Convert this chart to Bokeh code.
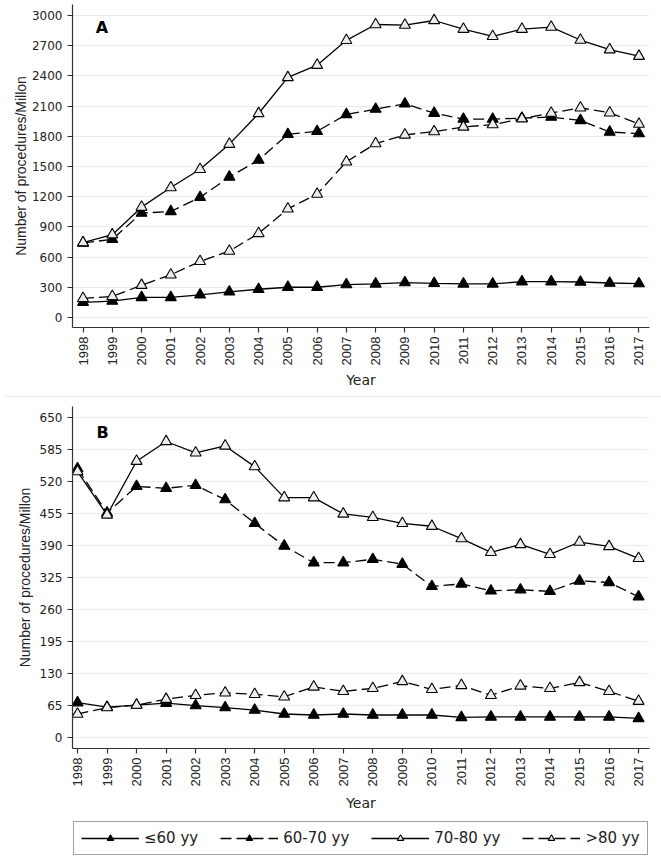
from math import pi
from bokeh.plotting import figure
from bokeh.models import Legend, LegendItem, Label, Div, FixedTicker, Range1d
from bokeh.layouts import column
from bokeh.embed import file_html
from bokeh.resources import INLINE

# ---------------- data ----------------
years = list(range(1998, 2018))
series_names = ["≤60 yy", "60-70 yy", "70-80 yy", ">80 yy"]

# Panel A
a_le60 = [150, 163, 199, 199, 225, 254, 280, 300, 300, 326, 333, 346, 339, 333, 333, 355, 355, 352, 342, 336]
a_60_70 = [740, 776, 1037, 1053, 1193, 1396, 1564, 1820, 1850, 2017, 2070, 2123, 2030, 1971, 1971, 1981, 1991, 1958, 1843, 1827]
a_70_80 = [743, 822, 1096, 1291, 1472, 1722, 2027, 2385, 2507, 2754, 2911, 2905, 2951, 2865, 2793, 2865, 2885, 2757, 2661, 2596]
a_gt80 = [189, 209, 320, 424, 557, 659, 835, 1079, 1226, 1547, 1728, 1814, 1847, 1893, 1916, 1975, 2031, 2083, 2034, 1922]
a_yticks = [0, 300, 600, 900, 1200, 1500, 1800, 2100, 2400, 2700, 3000]

# Panel B
b_le60 = [71, 62, 66, 70, 65, 61, 56, 48, 46, 48, 46, 46, 46, 41, 42, 42, 42, 42, 42, 39]
b_60_70 = [546, 456, 510, 506, 512, 483, 435, 389, 355, 355, 362, 352, 307, 312, 298, 300, 297, 318, 315, 286]
b_70_80 = [540, 452, 561, 601, 578, 592, 550, 487, 487, 454, 447, 435, 429, 404, 376, 392, 372, 397, 388, 364]
b_gt80 = [48, 61, 66, 78, 86, 91, 88, 83, 103, 94, 100, 114, 98, 106, 86, 105, 100, 112, 94, 74]
b_yticks = [0, 65, 130, 195, 260, 325, 390, 455, 520, 585, 650]

# ---------------- style ----------------
HFONT = "DejaVu Sans"
VFONT = "Liberation Sans"
AXC = "#333333"
GRID = "#e3ecef"
DASH = "11 5"
HOLLOW_FILL = "#ececec"
FIG_W = 661
LEFT = 72
RIGHT = 12

styles = [
    dict(dash="solid", fill="black"),
    dict(dash=DASH, fill="black"),
    dict(dash="solid", fill=HOLLOW_FILL),
    dict(dash=DASH, fill=HOLLOW_FILL),
]


def add_series(p, xs, vals, st):
    ln = p.line(xs, vals, line_color="black", line_width=1.3, line_dash=st["dash"])
    sc = p.scatter(xs, vals, marker="triangle", size=11, line_color="black",
                   line_width=1.1, fill_color=st["fill"])
    return [ln, sc]


def make_panel(series, yticks, xr, yr, frame_h, border_top, ylab_standoff,
               xlab_standoff, letter, letter_xy):
    p = figure(frame_width=FIG_W - LEFT - RIGHT, frame_height=frame_h,
               x_range=Range1d(*xr), y_range=Range1d(*yr),
               output_backend="svg", toolbar_location=None,
               min_border_left=LEFT, min_border_right=RIGHT,
               min_border_top=border_top, min_border_bottom=0,
               background_fill_color="white", border_fill_color="white")
    p.outline_line_color = None
    p.xgrid.grid_line_color = None
    p.ygrid.grid_line_color = GRID
    p.ygrid.grid_line_width = 1
    p.yaxis.ticker = FixedTicker(ticks=yticks)
    p.xaxis.ticker = FixedTicker(ticks=years)
    p.xaxis.major_label_orientation = pi / 2
    for ax in p.axis:
        ax.axis_line_color = AXC
        ax.axis_line_width = 1.2
        ax.major_tick_line_color = AXC
        ax.major_tick_line_width = 1.2
        ax.major_tick_in = 0
        ax.major_tick_out = 5
        ax.minor_tick_line_color = None
        ax.major_label_text_color = "#222222"
        ax.axis_label_text_color = "#222222"
        ax.axis_label_text_font_style = "normal"
        ax.major_label_standoff = 5
    p.yaxis.axis_label_standoff = ylab_standoff
    p.xaxis.major_label_standoff = 4
    p.xaxis.axis_label_standoff = xlab_standoff
    p.yaxis.major_label_text_font = HFONT
    p.yaxis.major_label_text_font_size = "12px"
    p.xaxis.major_label_text_font = VFONT
    p.xaxis.major_label_text_font_size = "13px"
    p.yaxis.axis_label = "Number of procedures/Millon"
    p.yaxis.axis_label_text_font = VFONT
    p.yaxis.axis_label_text_font_size = "14px"
    p.xaxis.axis_label = "Year"
    p.xaxis.axis_label_text_font = HFONT
    p.xaxis.axis_label_text_font_size = "14px"

    for vals, st in zip(series, styles):
        add_series(p, years, vals, st)

    p.add_layout(Label(x=letter_xy[0], y=letter_xy[1], text=letter, text_font=HFONT,
                       text_font_style="bold", text_font_size="16px", text_align="center",
                       text_baseline="middle", text_color="black"))
    return p


pA = make_panel([a_le60, a_60_70, a_70_80, a_gt80], a_yticks, (1997.64, 2017.36),
                (-100, 3110), 323, 4, 0, 4, "A", (1998.65, 2882))
pB = make_panel([b_le60, b_60_70, b_70_80, b_gt80], b_yticks, (1997.83, 2017.37),
                (-22, 672), 342, 4, 4, 6, "B", (1998.85, 619))

# legend strip: a small figure holding only the key; its sample renderers lie
# outside the strip's ranges, so only the legend glyphs are visible
pL = figure(frame_width=FIG_W - LEFT - RIGHT, frame_height=44,
            x_range=Range1d(0, 1), y_range=Range1d(-2, -1),
            output_backend="svg", toolbar_location=None, x_axis_type=None, y_axis_type=None,
            min_border_left=LEFT, min_border_right=RIGHT, min_border_top=0, min_border_bottom=0,
            outline_line_color=None, background_fill_color="white", border_fill_color="white")
pL.xgrid.grid_line_color = None
pL.ygrid.grid_line_color = None
key_renderers = [add_series(pL, years, vals, st)
                 for vals, st in zip([b_le60, b_60_70, b_70_80, b_gt80], styles)]
legend = Legend(items=[LegendItem(label=n, renderers=r) for n, r in zip(series_names, key_renderers)],
                orientation="horizontal", location=(1, 3),
                label_text_font=HFONT, label_text_font_size="15px", label_text_color="#222222",
                glyph_width=58, glyph_height=16, label_height=16, label_standoff=5, spacing=22,
                padding=7, margin=0, border_line_color="#444444", border_line_width=1.2,
                background_fill_color="white", background_fill_alpha=1)
pL.add_layout(legend, "center")

sep = Div(width=FIG_W, height=1, styles={"background-color": "#e6e6e6"})

layout = column(pA, sep, pB, pL, spacing=0)
open("out.html", "w").write(file_html(layout, INLINE))
